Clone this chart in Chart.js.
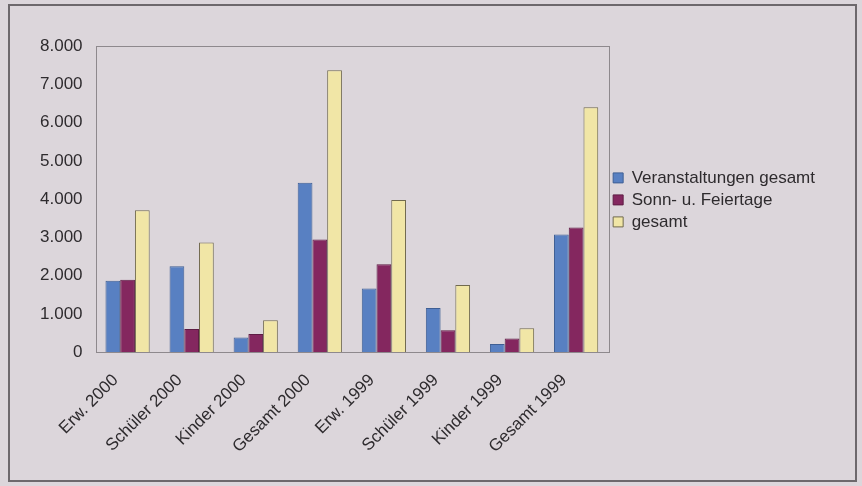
<!DOCTYPE html>
<html>
<head>
<meta charset="utf-8">
<script src="https://cdn.jsdelivr.net/npm/chart.js@4.4.1/dist/chart.umd.min.js"></script>
<style>
  html, body { margin: 0; padding: 0; background: #dcd6db; }
  #wrap { width: 862px; height: 486px; }
</style>
</head>
<body>
<div id="wrap"><canvas id="chart" width="862" height="486"></canvas></div>
<script>
// Kategorien und Werte
const categories = ['Erw. 2000', 'Schüler 2000', 'Kinder 2000', 'Gesamt 2000',
  'Erw. 1999', 'Schüler 1999', 'Kinder 1999', 'Gesamt 1999'];
const seriesNames = ['Veranstaltungen gesamt', 'Sonn- u. Feiertage', 'gesamt'];
const veranstaltungen = [1870, 2250, 390, 4430, 1670, 1160, 220, 3080];
const sonnFeiertage = [1900, 610, 480, 2950, 2300, 580, 360, 3260];
const gesamt = [3710, 2870, 840, 7370, 3980, 1760, 630, 6400];
const yTicks = [0, 1000, 2000, 3000, 4000, 5000, 6000, 7000, 8000];

// Zahl mit Tausenderpunkt, z.B. 8.000
function fmt(v) {
  return String(v).replace(/\B(?=(\d{3})+(?!\d))/g, '.');
}

// Rahmen um Gesamtbild und Zeichenfläche
const framePlugin = {
  id: 'frame',
  beforeDraw(chart) {
    const ctx = chart.ctx;
    ctx.save();
    ctx.strokeStyle = '#6d686c';
    ctx.lineWidth = 2;
    ctx.strokeRect(9, 5, 847, 476);
    ctx.restore();
  },
  afterDatasetsDraw(chart) {
    const a = chart.chartArea;
    const ctx = chart.ctx;
    ctx.save();
    ctx.strokeStyle = '#8e898d';
    ctx.lineWidth = 1;
    ctx.strokeRect(Math.round(a.left) + 0.5, Math.round(a.top) + 0.5,
      Math.round(a.right - a.left), Math.round(a.bottom - a.top));
    ctx.restore();
  }
};

const family = 'Liberation Sans, Arial, sans-serif';

new Chart(document.getElementById('chart').getContext('2d'), {
  type: 'bar',
  data: {
    labels: categories,
    datasets: [
      { label: seriesNames[0], data: veranstaltungen, backgroundColor: '#5880c2', borderColor: '#3f5f94', borderWidth: 1 },
      { label: seriesNames[1], data: sonnFeiertage, backgroundColor: '#84275f', borderColor: '#5e1c44', borderWidth: 1 },
      { label: seriesNames[2], data: gesamt, backgroundColor: '#f1e6a6', borderColor: '#716a4e', borderWidth: 1 }
    ]
  },
  options: {
    responsive: false,
    animation: false,
    layout: { padding: { left: 27, right: 37, top: 46, bottom: 11 } },
    datasets: { bar: { barPercentage: 1.0, categoryPercentage: 0.69 } },
    plugins: {
      legend: {
        position: 'right',
        align: 'start',
        maxWidth: 400,
        // leerer Titel schiebt die Einträge auf Höhe der Plotmitte
        title: { display: true, text: ' ', padding: { top: 104, bottom: 0 } },
        labels: {
          color: '#2e2b2e',
          font: { family: family, size: 17 },
          boxWidth: 10,
          boxHeight: 10,
          padding: 5
        }
      },
      tooltip: { enabled: false }
    },
    scales: {
      x: {
        grid: { display: false, drawTicks: false },
        border: { display: false },
        ticks: {
          color: '#2e2b2e',
          font: { family: family, size: 17 },
          minRotation: 45,
          maxRotation: 45,
          padding: 18,
          labelOffset: -12
        }
      },
      y: {
        min: 0,
        max: 8000,
        afterBuildTicks(scale) {
          scale.ticks = yTicks.map((v) => ({ value: v }));
        },
        grid: { display: false, drawTicks: false },
        border: { display: false },
        ticks: {
          color: '#2e2b2e',
          font: { family: family, size: 17 },
          padding: 13,
          callback: (v) => fmt(v)
        }
      }
    }
  },
  plugins: [framePlugin]
});
</script>
</body>
</html>
